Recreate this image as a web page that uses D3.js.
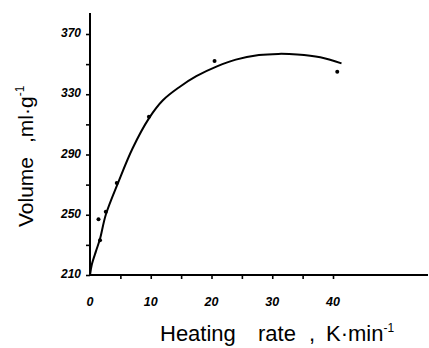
<!DOCTYPE html>
<html>
<head>
<meta charset="utf-8">
<script src="https://cdn.jsdelivr.net/npm/d3@7"></script>
<style>
	body { margin: 0; background: #fff; }
	svg { display: block; }
	.tick-label { font-family: "Liberation Sans", Arial, sans-serif; font-weight: bold; font-style: italic; }
	.title { font-family: "Liberation Sans", Arial, sans-serif; }
</style>
</head>
<body>
<svg id="chart" width="429" height="348"></svg>
<script>
'use strict';

// fitted curve
const curveX = [0, 0.3, 1, 1.65, 2.6, 4.7, 7, 9.7, 12, 14.8, 17.5, 20.9, 24, 27.8, 31, 34.1, 37.9, 41.4];
const curveY = [210, 217, 226, 234, 250, 272, 294, 314, 326, 335, 342, 348.5, 353, 356, 356.8, 356.4, 354.5, 350.5];

// measured points
const pointX = [1.4, 1.65, 2.6, 4.4, 9.7, 20.5, 40.7];
const pointY = [247, 233, 252, 271, 315, 352, 345];

const yTicks = [210, 230, 250, 270, 290, 310, 330, 350, 370];
const yLabels = [210, 250, 290, 330, 370];
const xTicks = [5, 10, 15, 20, 25, 30, 35, 40];
const xLabels = [0, 10, 20, 30, 40];

const svg = d3.select('#chart');

const x = d3.scaleLinear().domain([0, 40]).range([90, 333]);
const y = d3.scaleLinear().domain([210, 370]).range([275, 34]);

/** axes lines (run past the last tick, as in the original) */
svg.append('line')
	.attr('x1', x(0)).attr('x2', x(0))
	.attr('y1', y(210) + 1).attr('y2', 13)
	.attr('stroke', '#000').attr('stroke-width', 2);
svg.append('line')
	.attr('x1', x(0) - 1).attr('x2', 428)
	.attr('y1', y(210)).attr('y2', y(210))
	.attr('stroke', '#000').attr('stroke-width', 2);

// y ticks
const yAxis = svg.append('g')
	.attr('transform', `translate(${x(0)},0)`)
	.call(d3.axisLeft(y).tickValues(yTicks).tickSize(4).tickFormat(''));
yAxis.select('.domain').remove();
yAxis.selectAll('.tick line').attr('stroke-width', 1.6);

// x ticks
const xAxis = svg.append('g')
	.attr('transform', `translate(0,${y(210)})`)
	.call(d3.axisBottom(x).tickValues(xTicks).tickSize(4).tickFormat(''));
xAxis.select('.domain').remove();
xAxis.selectAll('.tick line').attr('stroke-width', 1.6);

svg.append('g').selectAll('text')
	.data(yLabels)
	.join('text')
		.attr('class', 'tick-label')
		.attr('x', 81)
		.attr('y', d => y(d) + 3)
		.attr('text-anchor', 'end')
		.attr('font-size', 12)
		.text(d => d);

svg.append('g').selectAll('text')
	.data(xLabels)
	.join('text')
		.attr('class', 'tick-label')
		.attr('x', d => x(d))
		.attr('y', 306)
		.attr('text-anchor', 'middle')
		.attr('font-size', 12.5)
		.text(d => d);

/** curve and points */
const line = d3.line()
	.x((d, i) => x(curveX[i]))
	.y(d => y(d))
	.curve(d3.curveCatmullRom.alpha(0.5));

svg.append('path')
	.datum(curveY)
	.attr('d', line)
	.attr('fill', 'none')
	.attr('stroke', '#000')
	.attr('stroke-width', 2);

svg.append('g').selectAll('circle')
	.data(pointX)
	.join('circle')
		.attr('cx', d => x(d))
		.attr('cy', (d, i) => y(pointY[i]))
		.attr('r', 2)
		.attr('fill', '#000');

/** titles */
const xt = svg.append('text')
	.attr('class', 'title')
	.attr('y', 341)
	.attr('font-size', 22);
xt.append('tspan').attr('x', 160).text('Heating');
xt.append('tspan').attr('x', 258).text('rate');
xt.append('tspan').attr('x', 309).text(',');
xt.append('tspan').attr('x', 326).text('K·min');
xt.append('tspan').attr('dy', -9).attr('font-size', 12).text('-1');

const yt = svg.append('text')
	.attr('class', 'title')
	.attr('transform', 'translate(33,227) rotate(-90)')
	.attr('font-size', 21);
yt.append('tspan').attr('x', 0).text('Volume');
yt.append('tspan').attr('x', 84).text(',ml·g');
yt.append('tspan').attr('dy', -9).attr('font-size', 12).text('-1');
</script>
</body>
</html>
